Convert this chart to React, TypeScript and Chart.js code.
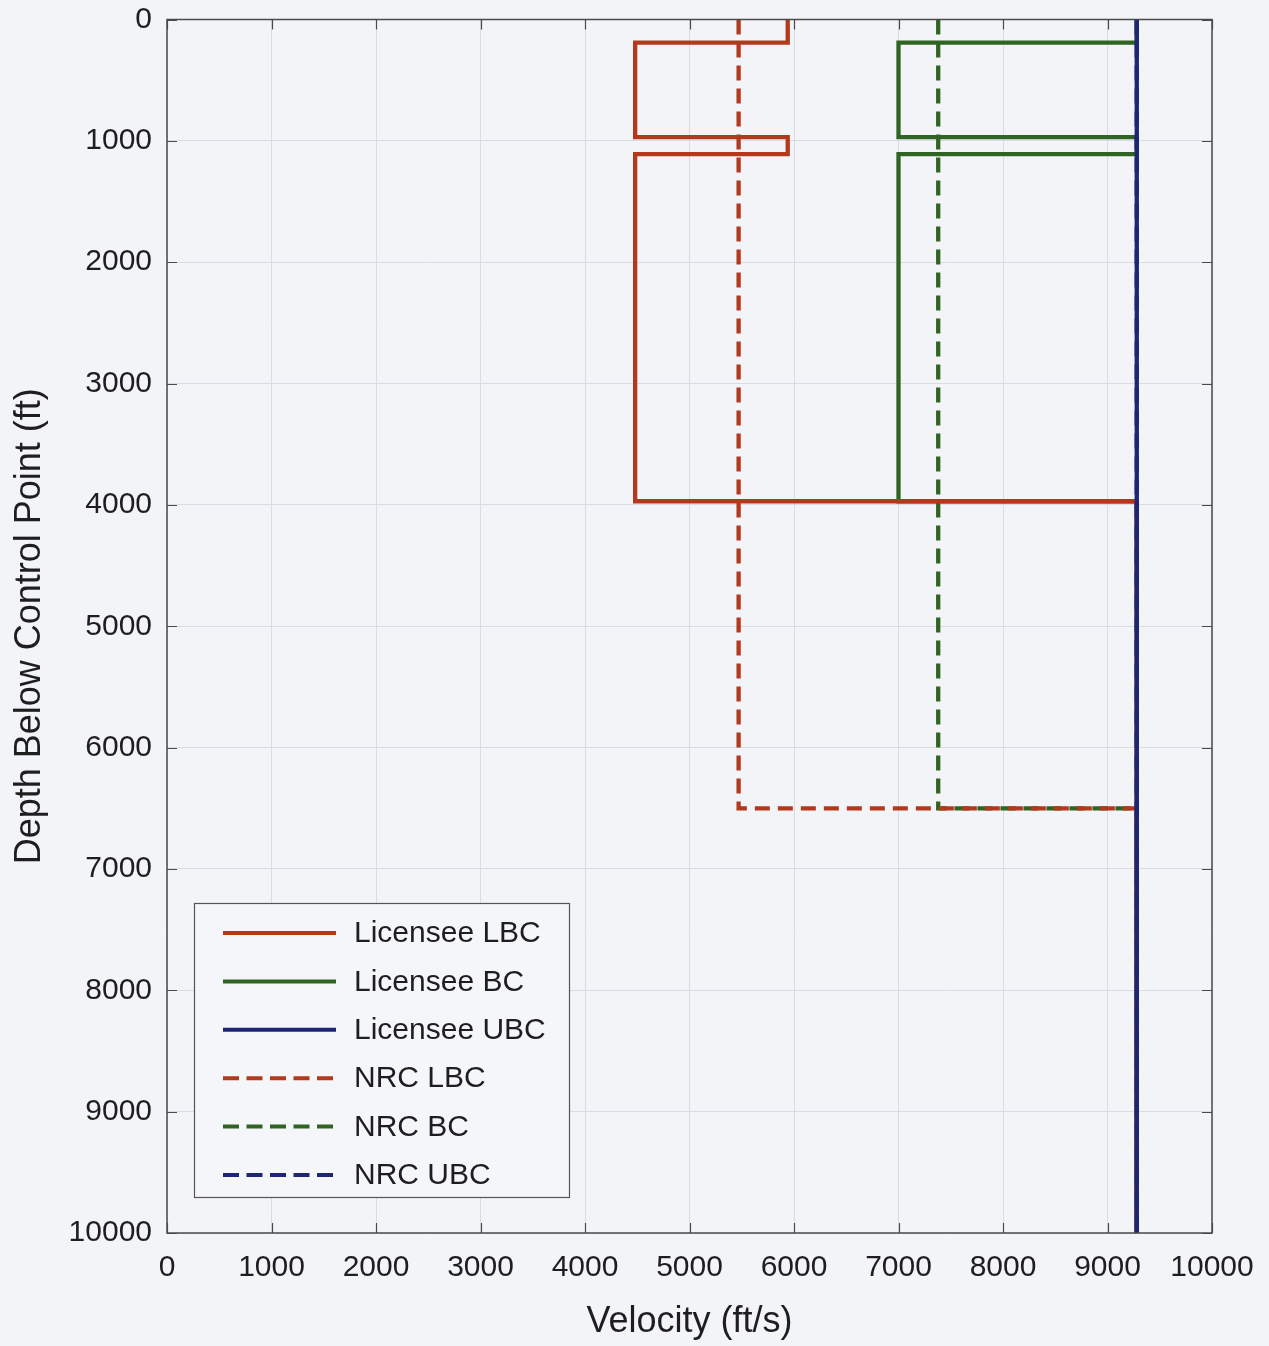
import React, { useEffect, useRef } from "react";
import { Chart, registerables } from "chart.js";

Chart.register(...registerables);

// Shear-wave velocity profiles: velocity (ft/s) against depth below control point (ft)
const licenseeLbcVelocity = [5940, 5940, 4480, 4480, 5940, 5940, 4480, 4480, 9280, 9280];
const licenseeLbcDepth = [0, 190, 190, 970, 970, 1110, 1110, 3970, 3970, 10000];

const licenseeBcVelocity = [9280, 9280, 7000, 7000, 9280, 9280, 7000, 7000, 9280, 9280];
const licenseeBcDepth = [0, 190, 190, 970, 970, 1110, 1110, 3970, 3970, 10000];

const licenseeUbcVelocity = [9280, 9280];
const licenseeUbcDepth = [0, 10000];

const nrcLbcVelocity = [5470, 5470, 9280, 9280];
const nrcLbcDepth = [0, 6500, 6500, 10000];

const nrcBcVelocity = [7380, 7380, 9280, 9280];
const nrcBcDepth = [0, 6500, 6500, 10000];

const nrcUbcVelocity = [9280, 9280];
const nrcUbcDepth = [0, 10000];

const seriesLabels = [
  "Licensee LBC",
  "Licensee BC",
  "Licensee UBC",
  "NRC LBC",
  "NRC BC",
  "NRC UBC",
];

const axisTicks = [0, 1000, 2000, 3000, 4000, 5000, 6000, 7000, 8000, 9000, 10000];

const RED = "#b3391d";
const GREEN = "#2f6422";
const BLUE = "#1c2675";
const DASH = [15, 8];
const BG = "#f3f4f8";
const FONT = "'Liberation Sans', Arial, Helvetica, sans-serif";

function toPoints(xs: number[], ys: number[]) {
  return xs.map((x, i) => ({ x, y: ys[i] }));
}

// Background, frame and inward tick marks
const framePlugin = {
  id: "frame",
  beforeDraw(chart: any) {
    const { ctx, width, height } = chart;
    ctx.save();
    ctx.fillStyle = BG;
    ctx.fillRect(0, 0, width, height);
    ctx.restore();
  },
  afterDatasetsDraw(chart: any) {
    const { ctx, chartArea } = chart;
    const { left, right, top, bottom } = chartArea;
    const xs = chart.scales.x;
    const ys = chart.scales.y;
    const len = 10;
    ctx.save();
    ctx.strokeStyle = "#4a4a4a";
    ctx.lineWidth = 1.2;
    ctx.beginPath();
    axisTicks.forEach((v) => {
      const px = Math.round(xs.getPixelForValue(v)) + 0.5;
      ctx.moveTo(px, bottom);
      ctx.lineTo(px, bottom - len);
      ctx.moveTo(px, top);
      ctx.lineTo(px, top + len);
      const py = Math.round(ys.getPixelForValue(v)) + 0.5;
      ctx.moveTo(left, py);
      ctx.lineTo(left + len, py);
      ctx.moveTo(right, py);
      ctx.lineTo(right - len, py);
    });
    ctx.stroke();
    ctx.lineWidth = 1.5;
    ctx.strokeRect(left, top, right - left, bottom - top);
    ctx.restore();
  },
};

// Boxed legend inside the lower-left part of the plot area
const insideLegendPlugin = {
  id: "insideLegend",
  afterDraw(chart: any) {
    const { ctx, chartArea } = chart;
    const boxLeft = chartArea.left + 27;
    const boxTop = chartArea.bottom - 330;
    const boxW = 375;
    const boxH = 294;
    ctx.save();
    ctx.fillStyle = "#f5f6f9";
    ctx.fillRect(boxLeft, boxTop, boxW, boxH);
    ctx.strokeStyle = "#555555";
    ctx.lineWidth = 1.2;
    ctx.strokeRect(boxLeft + 0.5, boxTop + 0.5, boxW, boxH);
    const rowGap = 48.4;
    ctx.font = `30px ${FONT}`;
    ctx.textBaseline = "middle";
    ctx.textAlign = "left";
    chart.data.datasets.forEach((ds: any, i: number) => {
      const y = boxTop + 30 + i * rowGap;
      ctx.strokeStyle = ds.borderColor;
      ctx.lineWidth = 4;
      ctx.setLineDash(ds.borderDash && ds.borderDash.length ? [16, 7.5] : []);
      ctx.beginPath();
      ctx.moveTo(boxLeft + 29, y);
      ctx.lineTo(boxLeft + 142, y);
      ctx.stroke();
      ctx.setLineDash([]);
      ctx.fillStyle = "#1e1e1e";
      ctx.fillText(ds.label, boxLeft + 160, y + 1);
    });
    ctx.restore();
  },
};

export default function App() {
  const canvasRef = useRef<HTMLCanvasElement | null>(null);

  useEffect(() => {
    if (!canvasRef.current) return;
    const line = (label: string, data: any[], color: string, dashed: boolean, order: number) => ({
      label,
      data,
      borderColor: color,
      backgroundColor: color,
      borderWidth: 4.3,
      borderDash: dashed ? DASH : [],
      borderCapStyle: "butt",
      borderJoinStyle: "miter",
      showLine: true,
      pointRadius: 0,
      pointHoverRadius: 0,
      tension: 0,
      fill: false,
      order,
    });

    const chart = new Chart(canvasRef.current, {
      type: "scatter",
      data: {
        datasets: [
          line(seriesLabels[0], toPoints(licenseeLbcVelocity, licenseeLbcDepth), RED, false, 2),
          line(seriesLabels[1], toPoints(licenseeBcVelocity, licenseeBcDepth), GREEN, false, 5),
          line(seriesLabels[2], toPoints(licenseeUbcVelocity, licenseeUbcDepth), BLUE, false, 0),
          line(seriesLabels[3], toPoints(nrcLbcVelocity, nrcLbcDepth), RED, true, 3),
          line(seriesLabels[4], toPoints(nrcBcVelocity, nrcBcDepth), GREEN, true, 4),
          line(seriesLabels[5], toPoints(nrcUbcVelocity, nrcUbcDepth), BLUE, true, 1),
        ] as any,
      },
      options: {
        animation: false,
        responsive: false,
        maintainAspectRatio: false,
        layout: { padding: { top: 19.5, right: 57, left: 0, bottom: 0 } },
        plugins: {
          legend: { display: false },
          tooltip: { enabled: false },
        },
        scales: {
          x: {
            type: "linear",
            min: 0,
            max: 10000,
            afterBuildTicks: (scale: any) => {
              scale.ticks = axisTicks.map((v) => ({ value: v }));
            },
            afterFit: (scale: any) => {
              scale.height = 113;
              scale.paddingLeft = 0;
              scale.paddingRight = 0;
            },
            ticks: {
              padding: 17,
              color: "#1e1e1e",
              font: { family: FONT, size: 30 },
              maxRotation: 0,
              autoSkip: false,
              callback: (v: any) => String(v),
            },
            grid: { color: "#d9dce3", lineWidth: 1, drawTicks: false },
            border: { display: false },
            title: {
              display: true,
              text: "Velocity (ft/s)",
              color: "#1e1e1e",
              font: { family: FONT, size: 36 },
              padding: { top: 0, bottom: 2 },
            },
          },
          y: {
            type: "linear",
            reverse: true,
            min: 0,
            max: 10000,
            afterBuildTicks: (scale: any) => {
              scale.ticks = axisTicks.map((v) => ({ value: v }));
            },
            afterFit: (scale: any) => {
              scale.width = 167;
              scale.paddingTop = 0;
              scale.paddingBottom = 0;
            },
            ticks: {
              padding: 15,
              color: "#1e1e1e",
              font: { family: FONT, size: 30 },
              autoSkip: false,
              callback: (v: any) => String(v),
            },
            grid: { color: "#d9dce3", lineWidth: 1, drawTicks: false },
            border: { display: false },
            title: {
              display: true,
              text: "Depth Below Control Point (ft)",
              color: "#1e1e1e",
              font: { family: FONT, size: 36 },
              padding: { top: 8, bottom: 0 },
            },
          },
        },
      } as any,
      plugins: [framePlugin, insideLegendPlugin],
    });

    return () => chart.destroy();
  }, []);

  return (
    <div
      style={{
        position: "absolute",
        left: 0,
        top: 0,
        width: 1269,
        height: 1346,
        background: BG,
      }}
    >
      <canvas ref={canvasRef} width={1269} height={1346} style={{ display: "block" }} />
    </div>
  );
}
